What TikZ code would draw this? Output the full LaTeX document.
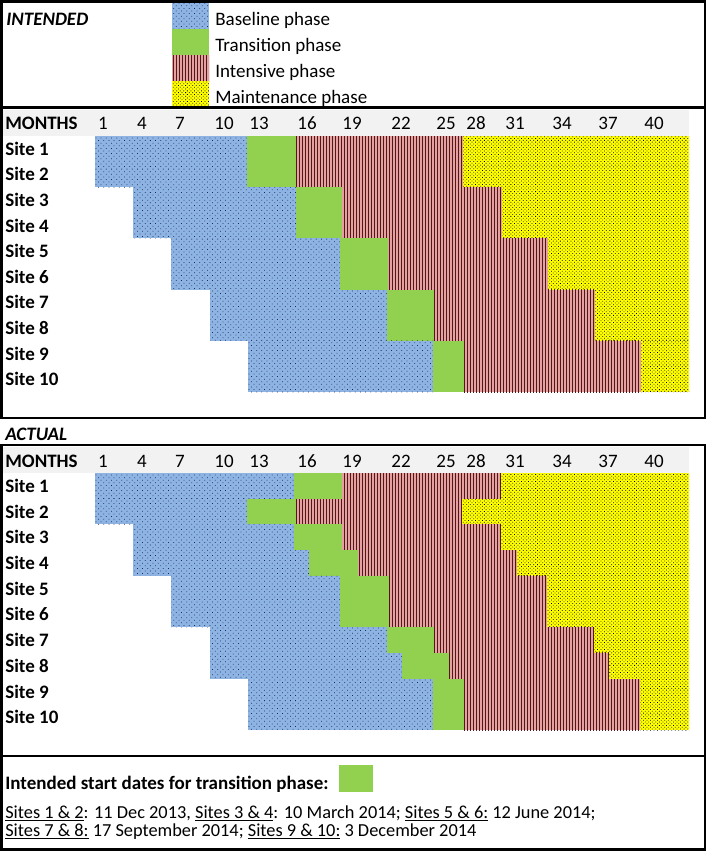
\documentclass[tikz,border=0pt]{standalone}
\usepackage{fontspec}
\setmainfont{Carlito}
\usepackage{tikz}
\usetikzlibrary{patterns.meta}
\definecolor{phaseBlue}{RGB}{142,180,227}
\definecolor{phaseBlueDot}{RGB}{25,40,90}
\definecolor{phaseGreen}{RGB}{146,208,80}
\definecolor{phaseRed}{RGB}{230,160,160}
\definecolor{phaseRedLine}{RGB}{80,25,25}
\definecolor{phaseYellow}{RGB}{255,255,0}
\definecolor{headerGray}{RGB}{242,242,242}
\tikzset{
  % one style per phase, same look in legend and both charts
  basefill/.style={
    preaction={fill=phaseBlue},
    pattern={Dots[distance=2.2pt,angle=45,radius=0.32pt]},
    pattern color=phaseBlueDot
  },
  transfill/.style={
    fill=phaseGreen
  },
  intensfill/.style={
    preaction={fill=phaseRed},
    pattern={Lines[angle=90,distance=1.8pt,line width=0.6pt]},
    pattern color=phaseRedLine
  },
  maintfill/.style={
    preaction={fill=phaseYellow},
    pattern={Dots[distance=1.5pt,angle=45,radius=0.33pt]},
    pattern color=black
  },
  framebox/.style={
    draw=black,
    line width=1.7pt
  },
  headerband/.style={
    fill=headerGray
  },
  paneltitle/.style={
    anchor=base west,
    inner sep=0pt,
    font=\bfseries\itshape
  },
  sitelab/.style={
    anchor=base west,
    inner sep=0pt,
    font=\bfseries
  },
  monthlab/.style={
    anchor=base,
    inner sep=0pt
  },
  legendtext/.style={
    anchor=base west,
    inner sep=0pt
  },
  notetext/.style={
    anchor=base west,
    inner sep=0pt,
    font=\fontsize{11}{13}\selectfont
  }
}
% #1 top, #2 bottom, #3 baseline start, #4 transition start,
% #5 intensive start, #6 maintenance start (all run to 689)
\newcommand{\phaserow}[6]{%
  \path[basefill] (#3,#1) rectangle (#4,#2);
  \path[transfill] (#4,#1) rectangle (#5,#2);
  \path[intensfill] (#5,#1) rectangle (#6,#2);
  \path[maintfill] (#6,#1) rectangle (689,#2);
}

\begin{document}
\fontsize{11.4}{13.5}\selectfont
\begin{tikzpicture}[x=0.6pt,y=-0.6pt]
\useasboundingbox (0,0) rectangle (709,851);

% legend
\node[paneltitle] (intendedtitle) at (6,25) {INTENDED};
\path[basefill] (172,3) rectangle (209,29);
\path[transfill] (172,29) rectangle (209,55);
\path[intensfill] (172,55) rectangle (209,81);
\path[maintfill] (172,81) rectangle (209,107);
\node[legendtext] (legbase) at (215,25) {Baseline phase};
\node[legendtext] (legtrans) at (215,51.5) {Transition phase};
\node[legendtext] (legintens) at (215,77.5) {Intensive phase};
\node[legendtext] (legmaint) at (215,103) {Maintenance phase};

% intended chart
\path[headerband] (3,110) rectangle (689,136);
\phaserow{136}{187.2}{95}{247}{296}{463}
\phaserow{187.2}{238.4}{133}{296}{342}{502}
\phaserow{238.4}{289.6}{171}{340}{388}{548}
\phaserow{289.6}{340.8}{210}{387}{434}{595}
\phaserow{340.8}{392}{248}{433}{464}{641}

% actual chart
\node[paneltitle] (actualtitle) at (5,440) {ACTUAL};
\path[headerband] (3,447) rectangle (689,473);
\phaserow{473}{498.7}{95}{294}{342}{501}
\phaserow{498.7}{524.4}{95}{247}{296}{462}
\phaserow{524.4}{550.1}{133}{294}{342}{501}
\phaserow{550.1}{575.8}{133}{309}{358}{517}
\phaserow{575.8}{627.2}{171}{340}{389}{547}
\phaserow{627.2}{652.9}{210}{387}{434}{594}
\phaserow{652.9}{678.6}{210}{402}{449}{609}
\phaserow{678.6}{730}{248}{433}{464}{640}

% row and column labels
\node[sitelab] (imonths) at (5,129.5) {MONTHS};
\node[sitelab] (amonths) at (5,467) {MONTHS};
\foreach \m/\cx in {1/103,4/142,7/180,10/224,13/259,16/307,19/352,
                    22/401,25/446,28/476,31/515,34/562,37/608,40/654} {
  \node[monthlab] (imonth\m) at (\cx,129.5) {\m};
  \node[monthlab] (amonth\m) at (\cx,467) {\m};
}
\foreach \i in {1,...,10} {
  \node[sitelab] (isite\i) at (5,{155.3+25.6*(\i-1)}) {Site \i};
  \node[sitelab] (asite\i) at (5,{492.4+25.7*(\i-1)}) {Site \i};
}

% start dates
\node[sitelab] (startnote) at (5,789) {Intended start dates for transition phase:};
\path[transfill] (339,765) rectangle (373,792);
\node[notetext] (dates1) at (5,818)
{\underline{Sites 1 \& 2}: 11 Dec 2013, \underline{Sites 3 \& 4}: 10 March 2014; \underline{Sites 5 \& 6:} 12 June 2014;};
\node[notetext] (dates2) at (5,836)
{\underline{Sites 7 \& 8:} 17 September 2014; \underline{Sites 9 \& 10:} 3 December 2014};

% panel frames
\draw[framebox] (1.5,1.5) rectangle (705,107.5);
\draw[framebox] (1.5,107.5) rectangle (705,418);
\draw[framebox] (1.5,445) rectangle (705,756);
\draw[framebox] (1.5,756) rectangle (705,849.5);

\end{tikzpicture}
\end{document}
